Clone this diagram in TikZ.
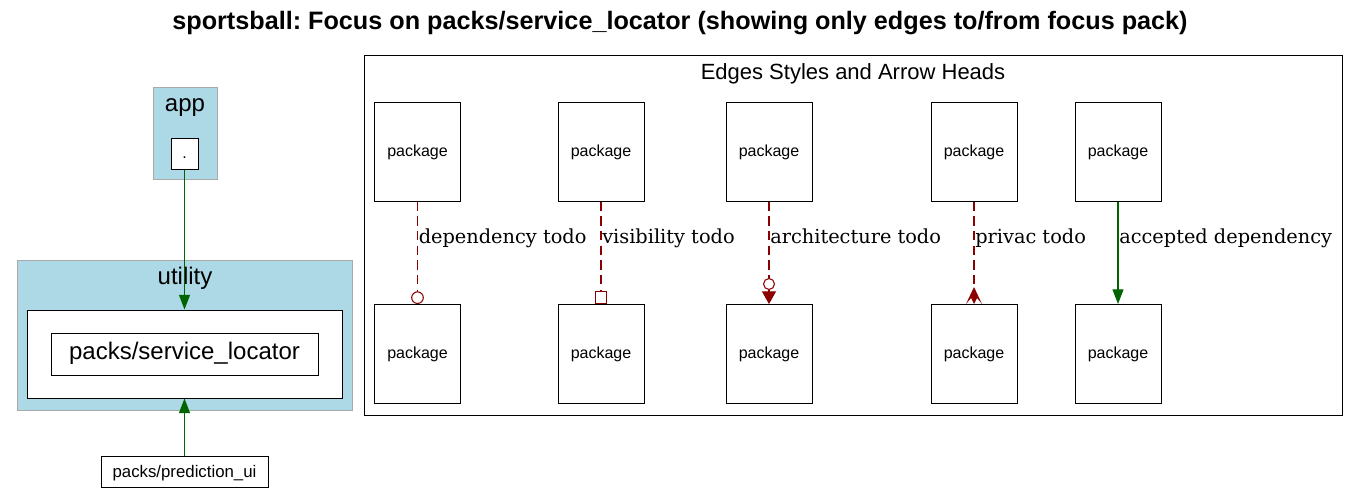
\documentclass[tikz,border=0pt]{standalone}
\usepackage{fontspec}
\setmainfont{Liberation Sans}
\newfontfamily\lblfont{DejaVu Serif}
\usetikzlibrary{arrows.meta}
\frenchspacing
\definecolor{lblue}{HTML}{ADD8E6}
\definecolor{cborder}{HTML}{A9A9A9}
\definecolor{dred}{HTML}{8B0000}
\definecolor{dgreen}{HTML}{006400}
\tikzset{
  pkg/.style={draw=black, line width=0.75pt, fill=white, inner sep=0pt},
  legbox/.style={pkg, minimum width=64.5pt, minimum height=74.25pt},
  cluster/.style={draw=cborder, line width=0.75pt, fill=lblue, inner sep=0pt},
  txt/.style={anchor=base, inner sep=0pt},
  clabel/.style={txt, font=\fontsize{18}{20}\selectfont},
  ptext/.style={txt, font=\fontsize{12}{14}\selectfont},
  elabel/.style={anchor=base west, inner sep=0pt, font=\lblfont\fontsize{14.5}{16}\selectfont},
  todo/.style={draw=dred, line width=0.8pt, dash pattern=on 7pt off 4pt},
  okedge/.style={draw=dgreen, line width=0.8pt, -{Triangle[length=11pt,width=8.25pt]}},
}
\begin{document}
\begin{tikzpicture}[x=0.75pt,y=-0.75pt]
\useasboundingbox (0,0) rectangle (1360,493);
% title
\node[txt, font=\bfseries\fontsize{18.9}{20}\selectfont] (title) at (680,29) {sportsball: Focus on packs/service\_locator (showing only edges to/from focus pack)};
% app cluster
\node[cluster, minimum width=48pt, minimum height=69pt] (appc) at (185,133) {};
\node[clabel] (appl) at (185,111) {app};
\node[pkg, minimum width=20.25pt, minimum height=23.25pt] (dot) at (184.5,153.5) {};
\node[ptext] (dott) at (184.5,158) {.};
% utility cluster
\node[cluster, minimum width=251.25pt, minimum height=112.5pt] (utilc) at (184.5,335) {};
\node[clabel] (utill) at (185,284) {utility};
\node[pkg, minimum width=236.25pt, minimum height=66pt] (inner) at (184.5,354) {};
\node[pkg, minimum width=200.25pt, minimum height=31.5pt] (sl) at (184.5,354) {};
\node[clabel] (slt) at (184.5,359.5) {packs/service\_locator};
\node[pkg, minimum width=125.25pt, minimum height=23.25pt] (pui) at (184.5,471.5) {};
\node[txt, font=\fontsize{12.6}{14}\selectfont] (puit) at (184.5,477) {packs/prediction\_ui};
\draw[okedge] (dot.south) -- (inner.north);
\draw[okedge] (pui.north) -- (inner.south);
% legend
\node[draw=black, line width=0.75pt, inner sep=0pt, minimum width=733.5pt, minimum height=270pt] (legend) at (853,235) {};
\node[txt, font=\fontsize{16.5}{18}\selectfont] (legt) at (853,79) {Edges Styles and Arrow Heads};
\foreach \i/\x in {1/417.5,2/601,3/769,4/974,5/1118}{
  \node[legbox] (t\i) at (\x,151.5) {};
  \node[ptext] at (\x,156) {package};
  \node[legbox] (b\i) at (\x,354) {};
  \node[ptext] at (\x,358.5) {package};
}
\draw[todo, -{Circle[fill=white, length=9.5pt, width=9.5pt, line width=0.8pt]}] (t1.south) -- (b1.north);
\draw[todo, -{Square[fill=white, length=9.5pt, width=9.5pt, line width=0.8pt]}] (t2.south) -- (b2.north);
\draw[todo, -{Circle[fill=white, length=9pt, width=9pt, line width=0.8pt, sep=1pt] Triangle[length=9.5pt, width=10.5pt]}] (t3.south) -- (b3.north);
\draw[todo] (t4.south) -- ([yshift=12.75pt]b4.north);
\fill[dred] (b4.north) ++(0,-17) -- ++(-8,17) -- ++(5,-6) -- ++(3,6) -- ++(3,-6) -- ++(5,6) -- cycle;
\draw[okedge] (t5.south) -- (b5.north);
\node[elabel] (l1) at (418.5,243) {dependency todo};
\node[elabel] (l2) at (602,243) {visibility todo};
\node[elabel] (l3) at (770,243) {architecture todo};
\node[elabel] (l4) at (975,243) {privac todo};
\node[elabel] (l5) at (1119,243) {accepted dependency};
\end{tikzpicture}
\end{document}
